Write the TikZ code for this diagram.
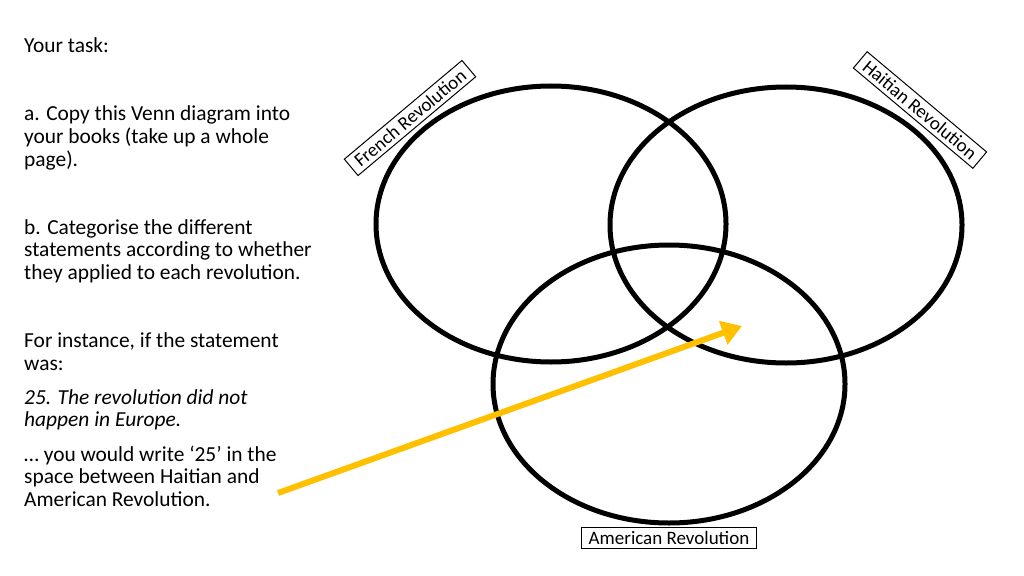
\documentclass[tikz,border=0pt]{standalone}
\usepackage{fontspec}
\setmainfont{Carlito}
\usetikzlibrary{arrows.meta,shapes.geometric}
\begin{document}
\begin{tikzpicture}[x=1pt,y=-1pt,
  txt/.style={anchor=base west,inner sep=0pt,font=\fontsize{21.4}{23}\selectfont},
  circ/.style={draw=black,line width=5pt},
  lab/.style={draw=black,fill=white,line width=1pt,inner xsep=7pt,inner ysep=4pt,font=\fontsize{19}{20}\selectfont},
  arr/.style={draw={rgb,255:red,255;green,192;blue,0},line width=6pt,-{Triangle[length=20pt,width=24pt]}}]
\useasboundingbox (0,0) rectangle (1024,575);
\node[txt] (t1) at (24,53) {Your task:};
\node[txt] (t2) at (24,121) {a. Copy this Venn diagram into};
\node[txt] (t3) at (24,143) {your books (take up a whole};
\node[txt] (t4) at (24,166) {page).};
\node[txt] (t5) at (24,234) {b. Categorise the different};
\node[txt] (t6) at (24,256) {statements according to whether};
\node[txt] (t7) at (24,279) {they applied to each revolution.};
\node[txt] (t8) at (24,347) {For instance, if the statement};
\node[txt] (t9) at (24,370) {was:};
\node[txt] (t10) at (24,404) {\itshape 25. The revolution did not};
\node[txt] (t11) at (24,426) {\itshape happen in Europe.};
\node[txt] (t12) at (24,461) {\dots\ you would write `25' in the};
\node[txt] (t13) at (24,483) {space between Haitian and};
\node[txt] (t14) at (24,506) {American Revolution.};
\node[circ,ellipse,minimum width=350pt,minimum height=276pt,inner sep=0pt] (fr) at (551,224) {};
\node[circ,ellipse,minimum width=352pt,minimum height=276pt,inner sep=0pt] (ha) at (786,225) {};
\node[circ,ellipse,minimum width=352pt,minimum height=278pt,inner sep=0pt] (am) at (669,384) {};
\node[lab,rotate=40] (lf) at (410,118) {French Revolution};
\node[lab,rotate=-40] (lh) at (920,110) {Haitian Revolution};
\node[lab] (la) at (669,538) {American Revolution};
\coordinate (a0) at (278,493);
\coordinate (a1) at (742,326);
\draw[arr] (a0) -- (a1);
\end{tikzpicture}
\end{document}
